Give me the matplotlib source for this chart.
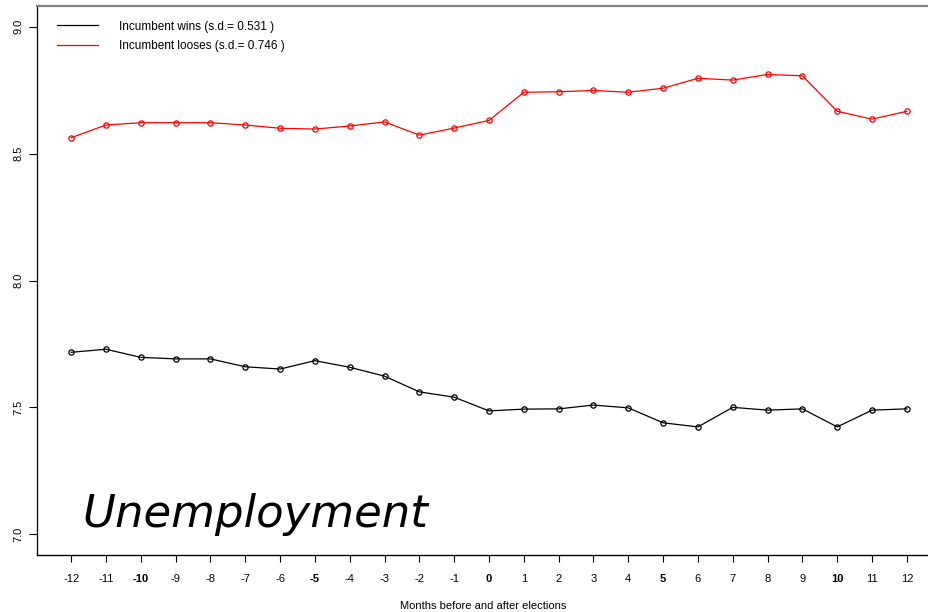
import matplotlib
matplotlib.use("Agg")
import matplotlib.pyplot as plt
from matplotlib.lines import Line2D

plt.rcParams['font.family'] = ['Liberation Sans', 'DejaVu Sans']

months = list(range(-12, 13))
wins = [7.717, 7.729, 7.697, 7.691, 7.691, 7.660, 7.651, 7.684, 7.658, 7.623,
        7.561, 7.540, 7.486, 7.493, 7.494, 7.509, 7.498, 7.439, 7.423, 7.500,
        7.489, 7.494, 7.423, 7.489, 7.494]
looses = [8.563, 8.613, 8.622, 8.622, 8.622, 8.613, 8.600, 8.597, 8.609, 8.625,
          8.573, 8.601, 8.631, 8.742, 8.744, 8.749, 8.742, 8.758, 8.797, 8.790,
          8.812, 8.807, 8.667, 8.636, 8.667]
wins_label = "Incumbent wins (s.d.= 0.531 )"
looses_label = "Incumbent looses (s.d.= 0.746 )"
y_ticks = [7.0, 7.5, 8.0, 8.5, 9.0]
bold_months = {-10, -5, 0, 5, 10}

W, H = 929, 612
fig = plt.figure(figsize=(W / 100, H / 100), dpi=100)
left, right, top, bottom = 37, 929, 6, 555
ax = fig.add_axes([left / W, 1 - bottom / H, (right - left) / W, (bottom - top) / H])

ax.plot(months, wins, color='black', lw=0.9, marker='o', ms=3.8,
        mfc='none', mec='black', mew=0.9)
ax.plot(months, looses, color='red', lw=0.9, marker='o', ms=3.8,
        mfc='none', mec='red', mew=0.9)

ax.set_xlim(-12.981, 12.636)
ax.set_ylim(6.918, 9.082)

ax.set_xticks(months)
ax.set_xticklabels([str(m) for m in months], fontsize=8)
for lab, m in zip(ax.get_xticklabels(), months):
    if m in bold_months:
        lab.set_fontweight('bold')
ax.set_yticks(y_ticks)
ax.set_yticklabels([f"{v:.1f}" for v in y_ticks], fontsize=8, rotation=90,
                   va='center')
ax.tick_params(axis='x', direction='out', length=4.8, pad=8.8, width=0.8)
ax.tick_params(axis='y', direction='out', length=5.5, pad=4, width=0.8)
ax.spines['right'].set_visible(False)
ax.spines['left'].set_linewidth(0.9)
ax.spines['bottom'].set_linewidth(1.0)
ax.spines['top'].set_linewidth(1.6)
ax.spines['top'].set_color('#808080')

ax.set_xlabel("Months before and after elections", fontsize=8, labelpad=12.5)

ax.text(-11.68, 7.030, "Unemployment", fontsize=32.4, style='italic',
        family='DejaVu Sans', ha='left', va='baseline')

handles = [Line2D([], [], color='black', lw=0.9),
           Line2D([], [], color='red', lw=0.9)]
ax.legend(handles, [wins_label, looses_label], loc='upper left',
          bbox_to_anchor=(0.0228, 0.9735), frameon=False, fontsize=8.5,
          handlelength=3.42, handletextpad=1.83, borderaxespad=0.0,
          borderpad=0.0, labelspacing=0.61)

fig.savefig("out.png", dpi=100)
